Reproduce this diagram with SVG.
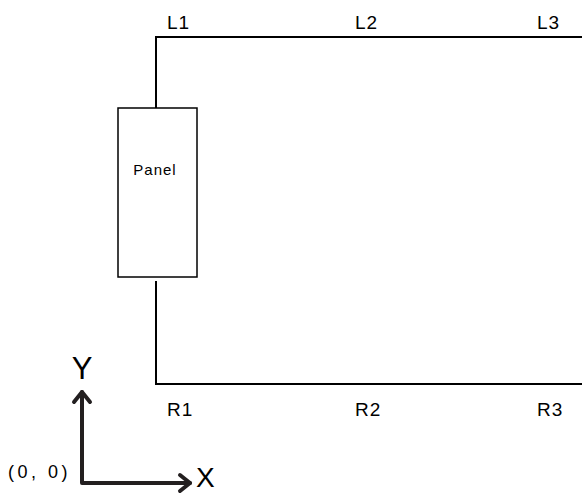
<svg xmlns="http://www.w3.org/2000/svg" width="582" height="494" viewBox="0 0 582 494">
<style>
.lbl{font-family:"Liberation Sans",Arial,sans-serif;font-size:19px;fill:#000;letter-spacing:1px}
.wire{stroke:#000;stroke-width:2;fill:none}
.axis{stroke:#231f20;stroke-width:4;fill:none;stroke-linecap:round;stroke-linejoin:round}
</style>
<rect width="582" height="494" fill="#fff"/>
<g id="connectors">
<polyline class="wire" points="156,108 156,37 582,37"/>
<polyline class="wire" points="156,281 156,384 582,384"/>
</g>
<g id="panel">
<rect x="118" y="108" width="79" height="169" fill="#fff" stroke="#000" stroke-width="1.5"/>
<text x="155" y="175" text-anchor="middle" style="font-family:'Liberation Sans',Arial,sans-serif;font-size:15px;letter-spacing:1px">Panel</text>
</g>
<g id="labels">
<text class="lbl" x="167" y="29">L1</text>
<text class="lbl" x="355" y="29">L2</text>
<text class="lbl" x="537" y="29">L3</text>
<text class="lbl" x="167" y="416">R1</text>
<text class="lbl" x="355" y="416">R2</text>
<text class="lbl" x="537" y="416">R3</text>
</g>
<g id="axes">
<polyline class="axis" points="82,392 82,483 190,483"/>
<polyline class="axis" points="74,402 82,392 90,402"/>
<polyline class="axis" points="180,475 190,483 180,491"/>
<text x="82" y="379" text-anchor="middle" style="font-family:'Liberation Sans',Arial,sans-serif;font-size:31px">Y</text>
<text x="196" y="487" style="font-family:'Liberation Sans',Arial,sans-serif;font-size:28px">X</text>
<text x="8" y="478" style="font-family:'Liberation Sans',Arial,sans-serif;font-size:18px;letter-spacing:3.5px">(0, 0)</text>
</g>
</svg>
